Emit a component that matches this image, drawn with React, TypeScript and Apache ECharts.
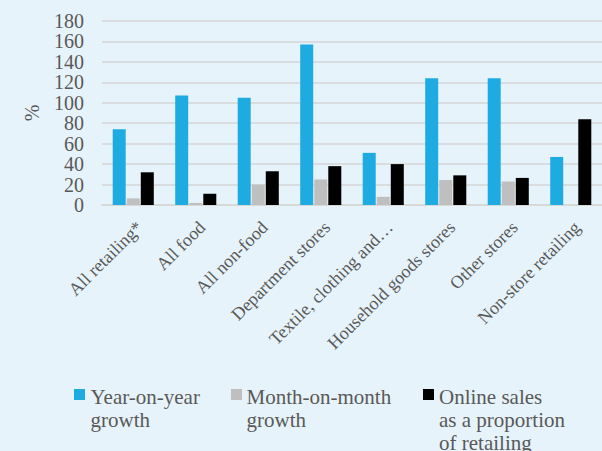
import React, { useEffect, useRef } from "react";
import * as echarts from "echarts";

// Retail sales growth by sector (%)
const categories = [
  "All retailing*",
  "All food",
  "All non-food",
  "Department stores",
  "Textile, clothing and…",
  "Household goods stores",
  "Other stores",
  "Non-store retailing",
];
const yearOnYear = [74, 107, 105, 157, 51, 124, 124, 47];
const monthOnMonth = [6.5, 2, 20, 25, 8, 24.5, 23, 0];
const onlineShare = [32, 11, 33, 38, 40, 29, 26.5, 84];
const yTicks = { min: 0, max: 180, interval: 20 };

const seriesNames = [
  "Year-on-year\ngrowth",
  "Month-on-month\ngrowth",
  "Online sales\nas a proportion\nof retailing",
];
const seriesColors = ["#1dabe2", "#bfbfbf", "#000000"];

const FONT = '"Liberation Serif", "Times New Roman", serif';
const TEXT = "#595959";

export default function App() {
  const ref = useRef<HTMLDivElement>(null);

  useEffect(() => {
    if (!ref.current) return;
    const chart = echarts.init(ref.current, undefined, { renderer: "svg" });

    // legend drawn as swatch + wrapped caption, top-aligned like the source layout
    const legendX = [74, 231, 423];
    const legendText = [90.5, 246.5, 439];
    const legendGraphics: any[] = [];
    seriesNames.forEach((name, i) => {
      legendGraphics.push({
        type: "rect",
        shape: { x: legendX[i], y: 389, width: 11, height: 11 },
        style: { fill: seriesColors[i] },
      });
      legendGraphics.push({
        type: "text",
        x: legendText[i],
        y: 385,
        style: {
          text: name,
          font: `21px ${FONT}`,
          fill: TEXT,
          lineHeight: 23,
        },
      });
    });

    chart.setOption({
      animation: false,
      backgroundColor: "#e7f3fa",
      textStyle: { fontFamily: FONT },
      grid: { left: 102, top: 21, width: 516, height: 184, containLabel: false },
      xAxis: {
        type: "category",
        data: categories,
        axisLine: { show: true, lineStyle: { color: "#d6d6d6", width: 1.5 } },
        axisTick: { show: false },
        axisLabel: {
          interval: 0,
          rotate: 45,
          margin: 13,
          align: "right",
          verticalAlign: "top",
          fontSize: 18,
          color: TEXT,
          fontFamily: FONT,
        },
      },
      yAxis: {
        type: "value",
        min: yTicks.min,
        max: yTicks.max,
        interval: yTicks.interval,
        name: "%",
        nameLocation: "middle",
        nameGap: 60,
        nameTextStyle: { fontSize: 20, color: TEXT, fontFamily: FONT },
        axisLine: { show: false },
        axisTick: { show: false },
        axisLabel: { fontSize: 20, color: TEXT, margin: 18, fontFamily: FONT },
        splitLine: { lineStyle: { color: "#d6d6d6", width: 1.5 } },
      },
      series: [yearOnYear, monthOnMonth, onlineShare].map((data, i) => ({
        name: seriesNames[i],
        type: "bar",
        data,
        barWidth: 13,
        barGap: "8%",
        itemStyle: { color: seriesColors[i] },
      })),
      graphic: legendGraphics,
    });

    return () => chart.dispose();
  }, []);

  return <div ref={ref} style={{ width: 602, height: 451, position: "absolute", left: 0, top: 0 }} />;
}
